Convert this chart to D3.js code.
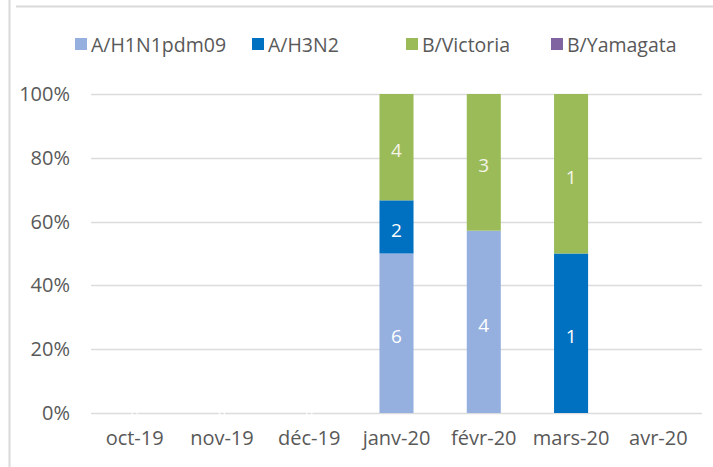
<!DOCTYPE html>
<html>
<head>
<meta charset="utf-8">
<script src="https://cdn.jsdelivr.net/npm/d3@7"></script>
<style>
  body { margin: 0; background: #fff; }
  svg { display: block; font-family: "Open Sans", sans-serif; }
</style>
</head>
<body>
<div class="container"></div>
<script>
const months = ["oct-19", "nov-19", "déc-19", "janv-20", "févr-20", "mars-20", "avr-20"];
const seriesNames = ["A/H1N1pdm09", "A/H3N2", "B/Victoria", "B/Yamagata"];
const seriesColors = ["#95b0df", "#0070c0", "#9bbb59", "#8064a2"];

// counts per month, one array per series
const h1n1 = [0, 0, 0, 6, 4, 0, 0];
const h3n2 = [0, 0, 0, 2, 0, 1, 0];
const victoria = [0, 0, 0, 4, 3, 1, 0];
const yamagata = [0, 0, 0, 0, 0, 0, 0];

const yTicks = [0, 0.2, 0.4, 0.6, 0.8, 1];

const width = 713;
const height = 467;
const margin = { top: 94, right: 11, bottom: 54, left: 91 };

const rows = months.map((m, i) => ({
  month: m,
  "A/H1N1pdm09": h1n1[i],
  "A/H3N2": h3n2[i],
  "B/Victoria": victoria[i],
  "B/Yamagata": yamagata[i],
}));

const svg = d3
  .select(".container")
  .append("svg")
  .attr("width", width)
  .attr("height", height);

// frame of the chart area
svg.append("line")
  .attr("x1", 9.5).attr("x2", 9.5)
  .attr("y1", 0).attr("y2", height)
  .attr("stroke", "#d9d9d9").attr("stroke-width", 2);
svg.append("line")
  .attr("x1", 16).attr("x2", width)
  .attr("y1", 6.5).attr("y2", 6.5)
  .attr("stroke", "#d9d9d9").attr("stroke-width", 2);

const xScale = d3
  .scaleBand()
  .domain(months)
  .range([margin.left, width - margin.right])
  .paddingInner(0.61)
  .paddingOuter(0.305);

const yScale = d3
  .scaleLinear()
  .domain([0, 1])
  .range([height - margin.bottom, margin.top]);

// gridlines
svg.append("g")
  .selectAll("line")
  .data(yTicks)
  .enter()
  .append("line")
  .attr("x1", margin.left)
  .attr("x2", width - margin.right)
  .attr("y1", (d) => Math.round(yScale(d)) + 0.5)
  .attr("y2", (d) => Math.round(yScale(d)) + 0.5)
  .attr("stroke", "#dcdcdc")
  .attr("stroke-width", 1.5);

// y axis labels
const yAxis = d3.axisLeft(yScale)
  .tickValues(yTicks)
  .tickFormat(d3.format(".0%"))
  .tickSize(0)
  .tickPadding(21);

svg.append("g")
  .attr("transform", "translate(" + margin.left + ",0)")
  .call(yAxis)
  .call((g) => g.select(".domain").remove())
  .selectAll("text")
  .attr("fill", "#595959")
  .attr("font-size", 20)
  .attr("font-family", "Open Sans");

// x axis labels
const xAxis = d3.axisBottom(xScale).tickSize(0).tickPadding(18);
svg.append("g")
  .attr("transform", "translate(0," + (height - margin.bottom) + ")")
  .call(xAxis)
  .call((g) => g.select(".domain").remove())
  .selectAll("text")
  .attr("fill", "#595959")
  .attr("font-size", 20)
  .attr("font-family", "Open Sans");

// stacked percentages
const stack = d3.stack().keys(seriesNames).offset(d3.stackOffsetExpand);
const layers = stack(rows);

const layerG = svg.append("g")
  .selectAll("g")
  .data(layers)
  .enter()
  .append("g")
  .attr("fill", (d, i) => seriesColors[i]);

layerG.selectAll("rect")
  .data((d) => d.filter((s) => s.data[d.key] > 0))
  .enter()
  .append("rect")
  .attr("x", (d) => xScale(d.data.month))
  .attr("width", xScale.bandwidth())
  .attr("y", (d) => yScale(d[1]))
  .attr("height", (d) => yScale(d[0]) - yScale(d[1]));

// value labels
layers.forEach((layer) => {
  svg.append("g")
    .selectAll("text")
    .data(layer.filter((s) => s.data[layer.key] > 0))
    .enter()
    .append("text")
    .attr("x", (d) => xScale(d.data.month) + xScale.bandwidth() / 2)
    .attr("y", (d) => (yScale(d[0]) + yScale(d[1])) / 2 + 3)
    .attr("text-anchor", "middle")
    .attr("dominant-baseline", "central")
    .attr("font-size", 19)
    .attr("fill", layer.key === "B/Victoria" ? "#f4f4e8" : "#ffffff")
    .text((d) => d.data[layer.key]);
});

// "0" labels of empty months, white over the baseline
const emptyMonths = rows.filter((r, i) => i < 3);
svg.append("g")
  .selectAll("text")
  .data(emptyMonths)
  .enter()
  .append("text")
  .attr("x", (d) => xScale(d.month) + xScale.bandwidth() / 2)
  .attr("y", yScale(0))
  .attr("text-anchor", "middle")
  .attr("dominant-baseline", "central")
  .attr("font-size", 13)
  .attr("fill", "#ffffff")
  .text("0");

// legend
const legendX = [75, 252, 406, 551];
const legend = svg.append("g")
  .selectAll("g")
  .data(seriesNames)
  .enter()
  .append("g")
  .attr("transform", (d, i) => "translate(" + legendX[i] + ",38)");

legend.append("rect")
  .attr("width", 12)
  .attr("height", 12)
  .attr("fill", (d, i) => seriesColors[i]);

legend.append("text")
  .attr("x", 16)
  .attr("y", 6)
  .attr("dominant-baseline", "central")
  .attr("font-size", 19.5)
  .attr("fill", "#595959")
  .text((d) => d);
</script>
</body>
</html>
